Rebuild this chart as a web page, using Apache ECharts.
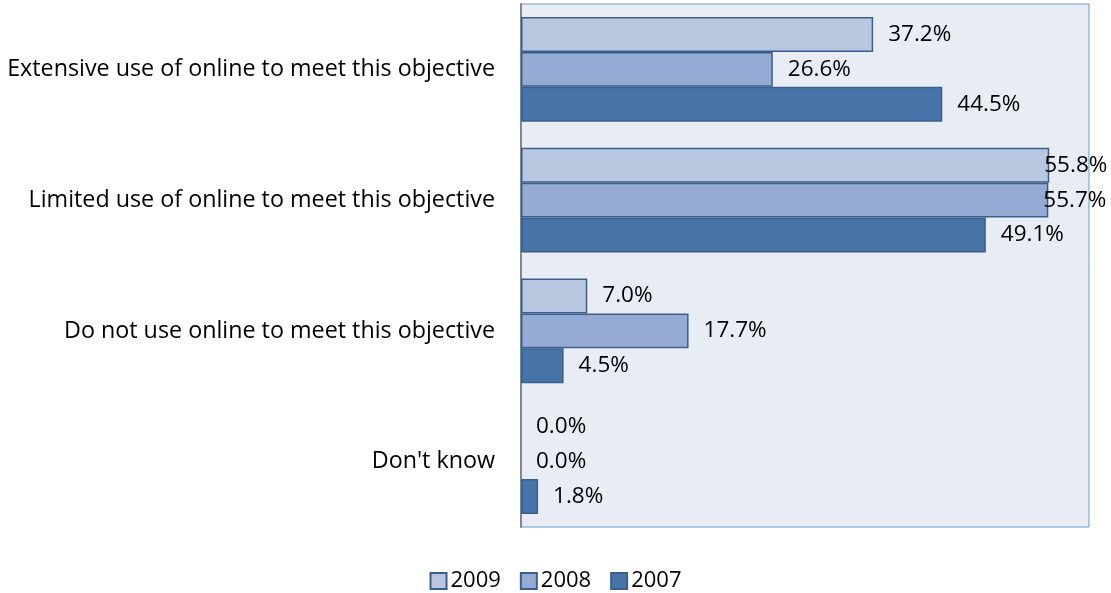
<!DOCTYPE html>
<html>
<head>
<meta charset="utf-8">
<script src="https://cdn.jsdelivr.net/npm/echarts@6/dist/echarts.min.js"></script>
<style>
  html, body { margin: 0; padding: 0; background: #ffffff; }
  #chart { width: 1111px; height: 593px; }
</style>
</head>
<body>
<div id="chart"></div>
<script>
// Use of online channels to meet the objective, share of respondents by year
const categories = [
  'Extensive use of online to meet this objective',
  'Limited use of online to meet this objective',
  'Do not use online to meet this objective',
  "Don't know"
];
const seriesNames = ['2009', '2008', '2007'];
const values2009 = [0.372, 0.558, 0.070, 0.000];
const values2008 = [0.266, 0.557, 0.177, 0.000];
const values2007 = [0.445, 0.491, 0.045, 0.018];

const fills = ['#b9c7e0', '#95abd3', '#4674a8'];
const edge = '#3a5f8e';
const font = '"Open Sans", "Noto Sans", sans-serif';
const size = 22.5;

const chart = echarts.init(document.getElementById('chart'), null, { renderer: 'canvas' });

function pct(v) { return (v * 100).toFixed(1) + '%'; }

// Zero bars get no outline; labels that would run past the plot edge are pulled back over the bar end
function makeData(values) {
  return values.map(v => {
    const item = { value: v };
    if (v === 0) item.itemStyle = { borderWidth: 0 };
    if (v > 0.55) item.label = { distance: -5 };
    return item;
  });
}

const allValues = [values2009, values2008, values2007];

chart.setOption({
  animation: false,
  grid: {
    left: 521, right: 22, top: 4, bottom: 66,
    show: true,
    backgroundColor: '#e8ecf4',
    borderColor: '#6f9bd1',
    borderWidth: 1
  },
  legend: {
    top: 565,
    left: 'center',
    itemWidth: 16,
    itemHeight: 16,
    itemGap: 19,
    icon: 'rect',
    textStyle: { fontFamily: font, fontSize: 22, color: '#000', padding: [0, 0, 0, -1] },
    data: seriesNames
  },
  xAxis: {
    type: 'value',
    min: 0,
    max: 0.6,
    show: false,
    splitLine: { show: false }
  },
  yAxis: {
    type: 'category',
    inverse: true,
    data: categories,
    axisTick: { show: false },
    axisLine: { show: true, lineStyle: { color: '#868686', width: 2 } },
    axisLabel: { fontFamily: font, fontSize: 23.3, color: '#000', margin: 26 }
  },
  series: seriesNames.map((name, i) => ({
    name: name,
    type: 'bar',
    data: makeData(allValues[i]),
    barGap: '0%',
    barCategoryGap: '20%',
    itemStyle: { color: fills[i], borderColor: edge, borderWidth: 1.5 },
    label: {
      show: true,
      position: 'right',
      distance: 15,
      fontFamily: font,
      fontSize: size,
      color: '#000',
      formatter: p => pct(p.value)
    }
  }))
});
</script>
</body>
</html>
